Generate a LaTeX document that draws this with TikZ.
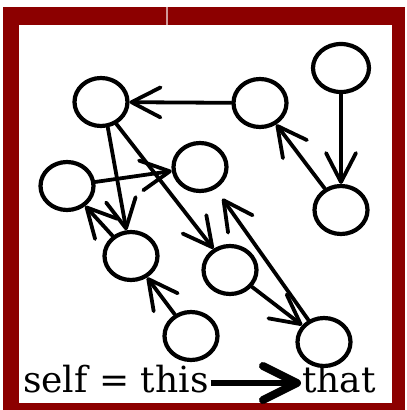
\documentclass[tikz,border=0pt]{standalone}
\usepackage{fontspec}
\newfontfamily\capfont{DejaVu Serif}
\usetikzlibrary{arrows.meta,shapes.geometric}
\definecolor{framered}{RGB}{140,0,0}
\tikzset{
  obj/.style={draw=black, ellipse, line width=4.2pt, inner sep=0pt,
              minimum width=53pt, minimum height=48pt, fill=white},
  ref/.style={draw=black, line width=3.8pt, line cap=round,
              -{Straight Barb[length=29pt,width=30pt,line cap=round,line join=round]}},
  bigref/.style={line width=5.5pt,
              -{Straight Barb[length=34pt,width=34pt,line width=8pt,line cap=round,line join=round]}},
  caption/.style={anchor=base west, inner sep=0pt, font=\capfont\fontsize{36}{36}\selectfont}
}
\begin{document}
\begin{tikzpicture}[x=1pt,y=-1pt]
  \useasboundingbox (0,0) rectangle (407,410);
  % frame
  \fill[framered] (3,7) rectangle (405,410);
  \fill[white] (19,25) rectangle (392,403);
  \fill[white,opacity=0.6] (165.8,7) rectangle (168.2,25);

  % objects
  \node[obj] (A) at (101,102) {};
  \node[obj] (B) at (260,103) {};
  \node[obj, minimum width=56pt] (C) at (341,68) {};
  \node[obj] (D) at (67,186) {};
  \node[obj] (E) at (200,167) {};
  \node[obj] (F) at (341,210) {};
  \node[obj] (G) at (131,256) {};
  \node[obj] (H) at (230,270) {};
  \node[obj] (I) at (191,336) {};
  \node[obj] (J) at (324,342) {};

  % references
  \draw[ref] (B) -- (A);
  \draw[ref] (C) -- (F);
  \draw[ref] (F) -- (B);
  \draw[ref] (A.-75) -- (G);
  \draw[ref] (A.-55) -- (H);
  \draw[ref] (D) -- (E);
  \draw[ref] (G) -- (D);
  \draw[ref] (I) -- (G);
  \draw[ref] (H) -- (J);
  \draw[ref, shorten >=12pt] (J) -- (E);

  % caption
  \node[caption] (lhs) at (23,392) {self = this};
  \node[caption] (rhs) at (302,392) {that};
  \draw[bigref] ([xshift=2pt,yshift=9pt]lhs.base east) -- ([xshift=-1pt,yshift=9pt]rhs.base west);
\end{tikzpicture}
\end{document}
